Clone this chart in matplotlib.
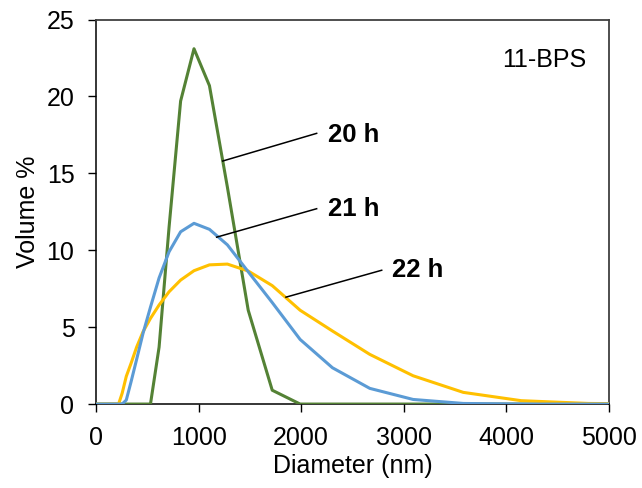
import numpy as np
import matplotlib
matplotlib.use("Agg")
import matplotlib.pyplot as plt

plt.rcParams['font.family'] = ['Liberation Sans', 'DejaVu Sans']

# Zetasizer size bins (nm)
diameter = [0.4, 190.1, 220.2, 255.0, 295.3, 342.0, 396.1, 458.7, 531.2, 615.1,
            712.4, 825.0, 955.4, 1106, 1281, 1484, 1718, 1990, 2305, 2669,
            3091, 3580, 4145, 4801, 5560]

vol_20h = [0, 0, 0, 0, 0, 0, 0, 0, 0, 3.7,
           11.5, 19.7, 23.1, 20.7, 14.1, 6.1, 0.9, 0, 0, 0,
           0, 0, 0, 0, 0]
vol_21h = [0, 0, 0, 0, 0.26, 1.45, 2.9, 4.6, 6.3, 8.2,
           9.9, 11.2, 11.75, 11.36, 10.35, 8.6, 6.6, 4.2, 2.36, 1.02,
           0.3, 0.04, 0, 0, 0]
vol_22h = [0, 0, 0, 0.7, 1.8, 2.65, 3.7, 4.7, 5.57, 6.44,
           7.3, 8.06, 8.67, 9.05, 9.1, 8.65, 7.7, 6.1, 4.75, 3.23,
           1.84, 0.76, 0.22, 0.04, 0]

labels = ['20 h', '21 h', '22 h']
colors = ['#548235', '#5B9BD5', '#FFC000']

fig = plt.figure(figsize=(6.42, 4.88), dpi=100)
ax = fig.add_axes([0.1495, 0.172, 0.799, 0.788])

# draw order: green, yellow, blue on top
ax.plot(diameter, vol_20h, color=colors[0], lw=2.2, zorder=3)
ax.plot(diameter, vol_22h, color=colors[2], lw=2.2, zorder=3)
ax.plot(diameter, vol_21h, color=colors[1], lw=2.2, zorder=4)

ax.set_xlim(0, 5000)
ax.set_ylim(0, 25)
ax.set_xticks(np.arange(0, 5001, 1000))
ax.set_yticks(np.arange(0, 26, 5))
ax.tick_params(direction='out', length=5.5, width=1, labelsize=18, pad=10)
ax.set_xlabel('Diameter (nm)', fontsize=18, labelpad=3)
ax.set_ylabel('Volume %', fontsize=18, labelpad=5)

for side in ['left', 'bottom']:
    ax.spines[side].set_color('black')
    ax.spines[side].set_linewidth(1.1)
for side in ['top', 'right']:
    ax.spines[side].set_color('#404040')
    ax.spines[side].set_linewidth(1.3)

# curve labels with leader lines
ann = [((1235, 15.8), (2151, 17.6), (2258, 17.5)),
       ((1176, 10.85), (2151, 12.7), (2258, 12.7)),
       ((1852, 6.95), (2785, 8.7), (2882, 8.7))]
for lab, (p0, p1, pt) in zip(labels, ann):
    ax.plot([p0[0], p1[0]], [p0[1], p1[1]], color='black', lw=1.1, zorder=5)
    ax.text(pt[0], pt[1], lab, fontsize=18.5, fontweight='bold',
            ha='left', va='center')

ax.text(3954, 22.37, '11-BPS', fontsize=18, ha='left', va='center')

fig.savefig('out.png', dpi=100)
